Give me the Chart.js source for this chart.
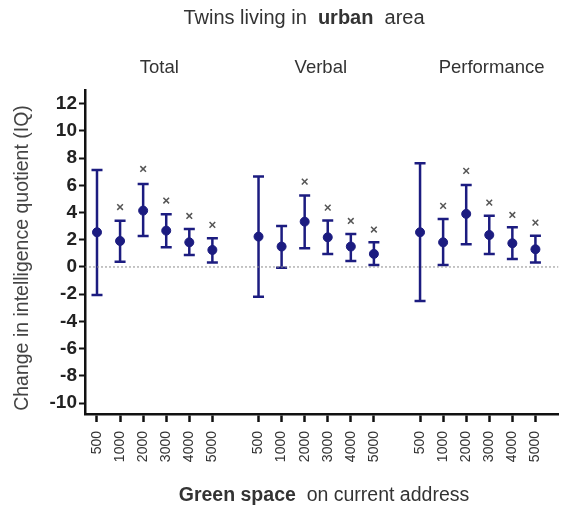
<!DOCTYPE html>
<html>
<head>
<meta charset="utf-8">
<script src="https://cdn.jsdelivr.net/npm/chart.js@4.4.1/dist/chart.umd.min.js"></script>
<style>
    html, body { margin: 0; padding: 0; background: #fff; }
    #wrap { width: 564px; height: 512px; }
</style>
</head>
<body>
<div id="wrap"><canvas id="chart" width="564" height="512"></canvas></div>
<script>
// Data
const sizes = ['500', '1000', '2000', '3000', '4000', '5000'];
const groups = ['Total', 'Verbal', 'Performance'];

const totalMean = [2.55, 1.91, 4.14, 2.67, 1.81, 1.25];
const totalLow = [-2.05, 0.39, 2.28, 1.45, 0.88, 0.32];
const totalHigh = [7.13, 3.40, 6.10, 3.87, 2.79, 2.11];
const totalStar = [null, 4.40, 7.20, 4.88, 3.75, 3.09];

const verbalMean = [2.23, 1.50, 3.33, 2.18, 1.50, 0.96];
const verbalLow = [-2.18, -0.05, 1.37, 0.96, 0.44, 0.15];
const verbalHigh = [6.64, 3.01, 5.25, 3.41, 2.43, 1.81];
const verbalStar = [null, null, 6.27, 4.36, 3.38, 2.75];

const perfMean = [2.55, 1.81, 3.90, 2.35, 1.74, 1.30];
const perfLow = [-2.50, 0.15, 1.67, 0.96, 0.59, 0.32];
const perfHigh = [7.62, 3.53, 6.03, 3.77, 2.92, 2.30];
const perfStar = [null, 4.49, 7.06, 4.73, 3.82, 3.26];

const yTicks = [-10, -8, -6, -4, -2, 0, 2, 4, 6, 8, 10, 12];

const FONT = '"Liberation Sans", Arial, sans-serif';
const NAVY = '#1c1c80';
const GROUP_GAP = 7; // slots per group (6 bars + one empty)
const X_MIN = -0.52, X_MAX = 20.0;
const groupLabelAt = [2.7, 9.7, 17.1]; // where the group names sit on the x scale

const series = [
    { mean: totalMean, low: totalLow, high: totalHigh, star: totalStar },
    { mean: verbalMean, low: verbalLow, high: verbalHigh, star: verbalStar },
    { mean: perfMean, low: perfLow, high: perfHigh, star: perfStar }
];

// Build points, bars and stars
const meanPoints = [];
const starPoints = [];
const bars = [];
const tickPos = [];
const tickLabel = {};
series.forEach((s, g) => {
    sizes.forEach((label, i) => {
        const x = g * GROUP_GAP + i;
        tickPos.push(x);
        tickLabel[x] = label;
        meanPoints.push({ x: x, y: s.mean[i] });
        bars.push({ x: x, low: s.low[i], high: s.high[i] });
        if (s.star[i] !== null) starPoints.push({ x: x, y: s.star[i] });
    });
});

const errorBars = {
    id: 'errorBars',
    beforeDatasetsDraw(chart) {
        const ctx = chart.ctx;
        const xs = chart.scales.x, ys = chart.scales.y;
        ctx.save();
        ctx.strokeStyle = NAVY;
        ctx.lineWidth = 2.5;
        bars.forEach(b => {
            const px = xs.getPixelForValue(b.x);
            const top = ys.getPixelForValue(b.high);
            const bot = ys.getPixelForValue(b.low);
            ctx.beginPath();
            ctx.moveTo(px, top);
            ctx.lineTo(px, bot);
            ctx.moveTo(px - 5.5, top);
            ctx.lineTo(px + 5.5, top);
            ctx.moveTo(px - 5.5, bot);
            ctx.lineTo(px + 5.5, bot);
            ctx.stroke();
        });
        ctx.restore();
    }
};

function drawMixed(ctx, parts, cx, y, size) {
    let w = 0;
    parts.forEach(p => {
        ctx.font = (p.bold ? 'bold ' : '') + size + 'px ' + FONT;
        p.w = ctx.measureText(p.text).width;
        w += p.w;
    });
    let x = cx - w / 2;
    parts.forEach(p => {
        ctx.font = (p.bold ? 'bold ' : '') + size + 'px ' + FONT;
        ctx.fillText(p.text, x, y);
        x += p.w;
    });
}

const labels = {
    id: 'labels',
    afterDraw(chart) {
        const ctx = chart.ctx;
        const xs = chart.scales.x;
        ctx.save();
        ctx.fillStyle = '#333';
        ctx.textBaseline = 'middle';
        ctx.textAlign = 'left';
        drawMixed(ctx, [{ text: 'Twins living in  ' }, { text: 'urban', bold: true }, { text: '  area' }], 304, 18, 20);
        drawMixed(ctx, [{ text: 'Green space', bold: true }, { text: '  on current address' }], 324, 496, 19.5);

        ctx.font = '18.5px ' + FONT;
        ctx.textAlign = 'center';
        groups.forEach((g, i) => {
            ctx.fillText(g, xs.getPixelForValue(groupLabelAt[i]), 68);
        });

        ctx.fillStyle = '#444';
        ctx.translate(23, 258);
        ctx.rotate(-Math.PI / 2);
        ctx.font = '19.5px ' + FONT;
        ctx.fillText('Change in intelligence quotient (IQ)', 0, 0);
        ctx.restore();
    }
};

new Chart(document.getElementById('chart'), {
    type: 'scatter',
    data: {
        datasets: [
            {
                data: meanPoints,
                backgroundColor: NAVY,
                borderColor: NAVY,
                pointRadius: 4.5,
                pointHoverRadius: 4.5,
                clip: false
            },
            {
                data: starPoints,
                pointStyle: 'crossRot',
                pointRadius: 4,
                borderColor: '#555',
                borderWidth: 1.5,
                clip: false
            },
            {
                type: 'line',
                data: [{ x: X_MIN, y: 0 }, { x: X_MAX, y: 0 }],
                borderColor: '#8a8a8a',
                borderWidth: 1,
                borderDash: [2, 2],
                pointRadius: 0,
                order: 5
            }
        ]
    },
    options: {
        responsive: false,
        animation: false,
        events: [],
        layout: { padding: { top: 90, left: 0, right: 0, bottom: 0 } },
        plugins: {
            legend: { display: false },
            tooltip: { enabled: false },
            title: { display: false }
        },
        scales: {
            x: {
                type: 'linear',
                min: X_MIN,
                max: X_MAX,
                afterBuildTicks: scale => {
                    scale.ticks = tickPos.map(v => ({ value: v }));
                },
                afterFit: scale => { scale.height = 98; },
                border: { color: '#111', width: 2.5 },
                grid: {
                    drawOnChartArea: false,
                    drawTicks: true,
                    tickLength: 8,
                    tickWidth: 2.5,
                    tickColor: '#111'
                },
                ticks: {
                    autoSkip: false,
                    minRotation: 90,
                    maxRotation: 90,
                    padding: 9,
                    color: '#333',
                    font: { family: FONT, size: 14 },
                    callback: v => tickLabel[v] || ''
                }
            },
            y: {
                min: -10.8,
                max: 13,
                afterBuildTicks: scale => {
                    scale.ticks = yTicks.map(v => ({ value: v }));
                },
                afterFit: scale => { scale.width = 85; },
                border: { color: '#111', width: 2.5 },
                grid: {
                    drawOnChartArea: false,
                    drawTicks: true,
                    tickLength: 6,
                    tickWidth: 2,
                    tickColor: '#111'
                },
                ticks: {
                    padding: 2,
                    color: '#222',
                    font: { family: FONT, size: 19, weight: 'bold' }
                }
            }
        }
    },
    plugins: [errorBars, labels]
});
</script>
</body>
</html>
